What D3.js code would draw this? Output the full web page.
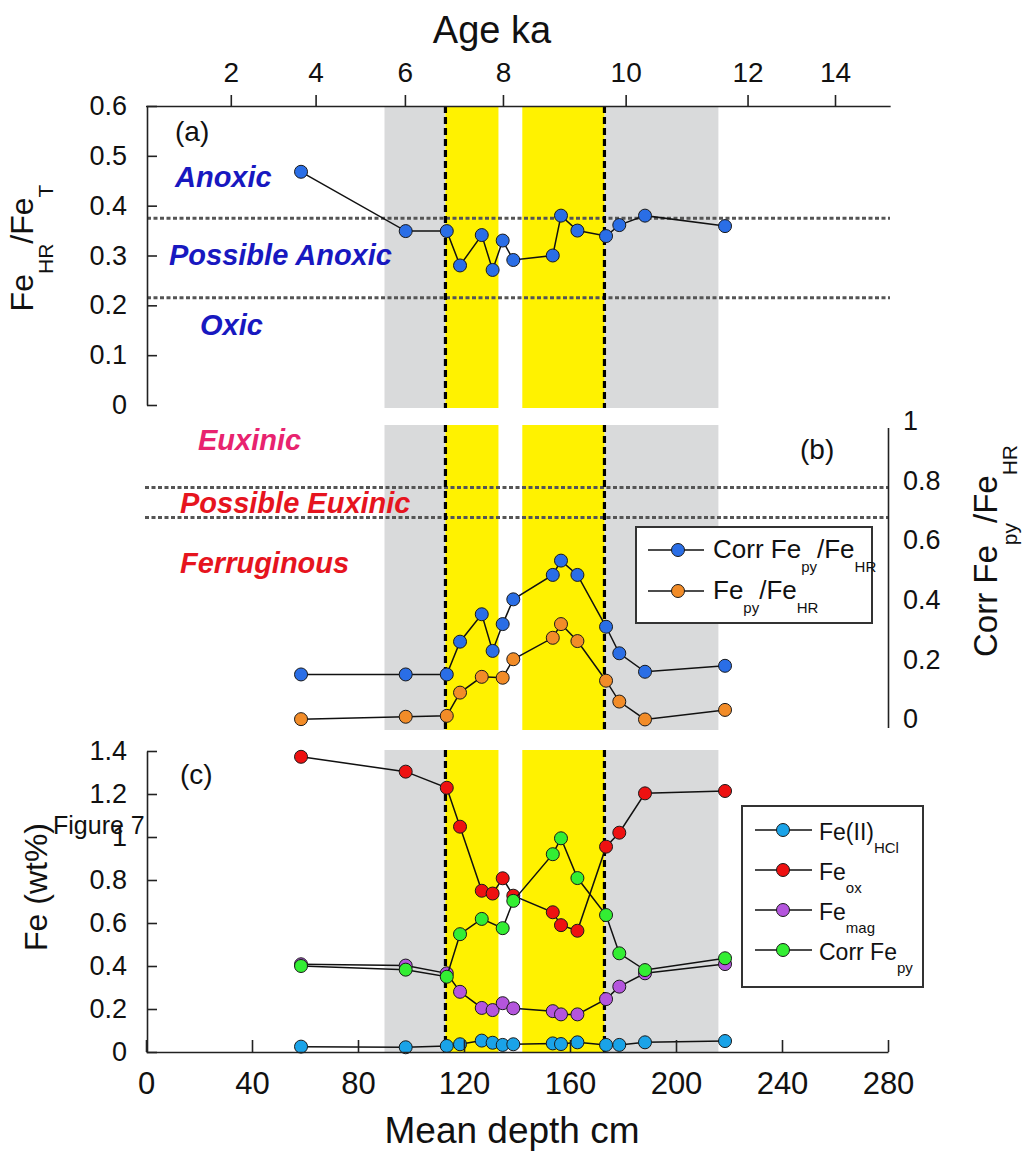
<!DOCTYPE html>
<html>
<head>
<meta charset="utf-8">
<script src="https://cdn.jsdelivr.net/npm/d3@7"></script>
<style>
  body { margin: 0; background: #fff; }
  svg { display: block; font-family: "Liberation Sans", Arial, Helvetica, sans-serif; }
</style>
</head>
<body>
<svg id="chart" width="1026" height="1156"></svg>
<script>
// mean depth (cm) of each sample
const depth = [58.5, 98, 113.5, 118.5, 126.7, 130.8, 134.6, 138.6, 153.5, 156.6, 162.8, 173.6, 178.6, 188.3, 218.5];

// (a) FeHR/FeT
const feHrFeT = [0.468, 0.349, 0.349, 0.28, 0.341, 0.271, 0.33, 0.291, 0.30, 0.38, 0.35, 0.339, 0.361, 0.38, 0.359];

// (b) pyrite ratios
const corrFepyFeHR = [0.173, 0.173, 0.173, 0.283, 0.375, 0.252, 0.342, 0.425, 0.507, 0.555, 0.507, 0.333, 0.244, 0.182, 0.202];
const fepyFeHR = [0.023, 0.031, 0.034, 0.112, 0.165, null, 0.162, 0.224, 0.296, 0.342, 0.285, 0.152, 0.082, 0.022, 0.054];

// (c) Fe wt%
const feIIHCl = [0.025, 0.022, 0.028, 0.036, 0.053, 0.043, 0.033, 0.036, 0.04, 0.037, 0.045, 0.033, 0.033, 0.045, 0.051];
const feOx = [1.373, 1.304, 1.229, 1.048, 0.75, 0.737, 0.808, 0.727, 0.65, 0.59, 0.564, 0.955, 1.02, 1.203, 1.214];
const feMag = [0.408, 0.402, 0.366, 0.28, 0.205, 0.195, 0.227, 0.203, 0.19, 0.175, 0.175, 0.246, 0.304, 0.366, 0.409];
const corrFepy = [0.40, 0.383, 0.35, 0.548, 0.619, null, 0.576, 0.703, 0.92, 0.994, 0.809, 0.637, 0.459, 0.381, 0.436];

// shaded intervals (depth cm)
const grayBands = [[90, 113], [173, 216]];
const yellowBands = [[113, 133], [142, 173]];
const boundaries = [113, 173];

// age model ticks on the top axis
const ageLabels = [2, 4, 6, 8, 10, 12, 14];
const ageDepths = [32, 64, 97.7, 134.7, 181, 227, 260];

// thresholds
const anoxicLimits = [0.375, 0.215];
const euxinicLimits = [0.8, 0.7];

const depthTicks = [0, 40, 80, 120, 160, 200, 240, 280];
const ticksA = [0, 0.1, 0.2, 0.3, 0.4, 0.5, 0.6];
const ticksB = [0, 0.2, 0.4, 0.6, 0.8, 1];
const ticksC = [0, 0.2, 0.4, 0.6, 0.8, 1, 1.2, 1.4];

const svg = d3.select("#chart");
svg.append("rect").attr("width", 1026).attr("height", 1156).attr("fill", "#fff");

const x = d3.scaleLinear([0, 280], [146, 888]);
const ya = d3.scaleLinear([0, 0.6], [405, 106]);
const yb = d3.scaleLinear([0, 1], [726, 428]);
const yc = d3.scaleLinear([0, 1.4], [1052, 751]);

const fmt = d => String(+d.toFixed(1));

function shading(top, bottom) {
  const g = svg.append("g");
  g.selectAll(".gray").data(grayBands).join("rect")
      .attr("x", d => x(d[0])).attr("width", d => x(d[1]) - x(d[0]))
      .attr("y", top).attr("height", bottom - top).attr("fill", "#d9dadb");
  g.selectAll(".yel").data(yellowBands).join("rect")
      .attr("x", d => x(d[0])).attr("width", d => x(d[1]) - x(d[0]))
      .attr("y", top).attr("height", bottom - top).attr("fill", "#fff200");
  return g;
}

function vlines(top, bottom) {
  svg.append("g").selectAll("line").data(boundaries).join("line")
      .attr("x1", d => x(d)).attr("x2", d => x(d))
      .attr("y1", top).attr("y2", bottom)
      .attr("stroke", "#000").attr("stroke-width", 3.2).attr("stroke-dasharray", "7,4");
}

function hlines(values, y, x0, x1) {
  svg.append("g").selectAll("line").data(values).join("line")
      .attr("x1", x0).attr("x2", x1)
      .attr("y1", d => y(d)).attr("y2", d => y(d))
      .attr("stroke", "#555").attr("stroke-width", 3).attr("stroke-dasharray", "4,2.5");
}

function series(values, y, color) {
  const pts = depth.map((d, i) => [d, values[i]]).filter(p => p[1] != null);
  const line = d3.line().x(p => x(p[0])).y(p => y(p[1]));
  svg.append("path").datum(pts).attr("d", line)
      .attr("fill", "none").attr("stroke", "#111").attr("stroke-width", 1.5);
  svg.append("g").selectAll("circle").data(pts).join("circle")
      .attr("cx", p => x(p[0])).attr("cy", p => y(p[1])).attr("r", 6.5)
      .attr("fill", color).attr("stroke", "#1a1a1a").attr("stroke-width", 1);
}

function styleAxis(g, size) {
  g.selectAll(".domain, .tick line").attr("stroke", "#222").attr("stroke-width", 1.6);
  g.selectAll("text").attr("font-size", size).attr("fill", "#111")
      .attr("font-family", "'Liberation Sans', Arial, sans-serif");
}

function label(txt, px, py, size, color, opts = {}) {
  return svg.append("text").attr("x", px).attr("y", py)
      .attr("font-size", size).attr("fill", color)
      .attr("font-weight", opts.bold ? "bold" : null)
      .attr("font-style", opts.italic ? "italic" : null)
      .text(txt);
}

// ---------- panel (a) ----------
shading(106, 408);
hlines(anoxicLimits, ya, 147, 890);
vlines(106, 408);
series(feHrFeT, ya, "#2a6ee6");

styleAxis(svg.append("g").attr("transform", "translate(147,0)")
    .call(d3.axisLeft(ya).tickValues(ticksA).tickFormat(fmt)
      .tickSizeInner(-10).tickSizeOuter(0).tickPadding(20)), 27);

const ageAxis = svg.append("g").attr("transform", "translate(0,106)")
    .call(d3.axisTop(x).tickValues(ageDepths).tickFormat((d, i) => ageLabels[i])
      .tickSizeInner(11).tickSizeOuter(0).tickPadding(13));
styleAxis(ageAxis, 28);
ageAxis.select(".domain").attr("d", `M${x(0)},0.5H${x(281)}`);

svg.append("text").attr("x", 492).attr("y", 43).attr("text-anchor", "middle")
    .attr("font-size", 38).attr("fill", "#111").text("Age ka");

label("(a)", 175, 141, 28, "#111");
const blueTxt = "#1818c0";
label("Anoxic", 175, 187, 29, blueTxt, {bold: true, italic: true});
label("Possible Anoxic", 169, 265, 29, blueTxt, {bold: true, italic: true});
label("Oxic", 200, 335, 29, blueTxt, {bold: true, italic: true});

const tA = svg.append("text").attr("transform", "translate(33,248) rotate(-90)")
    .attr("text-anchor", "middle").attr("font-size", 32).attr("fill", "#111");
tA.append("tspan").text("Fe");
tA.append("tspan").attr("font-size", 21).attr("dy", 20).text("HR");
tA.append("tspan").attr("dy", -20).text("/Fe");
tA.append("tspan").attr("font-size", 21).attr("dy", 20).text("T");

// ---------- panel (b) ----------
shading(425, 730);
hlines(euxinicLimits, yb, 145, 888);
vlines(425, 730);
series(corrFepyFeHR, yb, "#2a6ee6");
series(fepyFeHR, yb, "#f28c28");

const axB = svg.append("g").attr("transform", "translate(888,0)")
    .call(d3.axisRight(yb).tickValues(ticksB).tickFormat(fmt)
      .tickSize(0).tickPadding(15));
styleAxis(axB, 27);
axB.selectAll("text").attr("y", -7);
axB.select(".domain").attr("d", `M0.5,${yb(1)}V${yb(-0.007)}`);

label("(b)", 800, 459, 28, "#111");
label("Euxinic", 198, 450, 29, "#e8236f", {bold: true, italic: true});
label("Possible Euxinic", 180, 513, 29, "#e6141e", {bold: true, italic: true});
label("Ferruginous", 180, 573, 29, "#e6141e", {bold: true, italic: true});

const tB = svg.append("text").attr("transform", "translate(997,551) rotate(-90)")
    .attr("text-anchor", "middle").attr("font-size", 33).attr("fill", "#111");
tB.append("tspan").text("Corr Fe");
tB.append("tspan").attr("font-size", 21).attr("dy", 20).text("py");
tB.append("tspan").attr("dy", -20).text("/Fe");
tB.append("tspan").attr("font-size", 21).attr("dy", 20).text("HR");

// legend (b)
const legB = [
  {name: ["Corr Fe", "py", "/Fe", "HR"], color: "#2a6ee6"},
  {name: ["Fe", "py", "/Fe", "HR"], color: "#f28c28"}
];
svg.append("rect").attr("x", 636).attr("y", 527).attr("width", 236).attr("height", 96)
    .attr("fill", "#fff").attr("stroke", "#333").attr("stroke-width", 2);
legB.forEach((d, i) => {
  const cy = 550 + i * 41;
  svg.append("line").attr("x1", 648).attr("x2", 704).attr("y1", cy).attr("y2", cy)
      .attr("stroke", "#111").attr("stroke-width", 1.5);
  svg.append("circle").attr("cx", 678).attr("cy", cy).attr("r", 6.5)
      .attr("fill", d.color).attr("stroke", "#1a1a1a");
  const t = svg.append("text").attr("x", 713).attr("y", cy + 8).attr("font-size", 26).attr("fill", "#111");
  t.append("tspan").text(d.name[0]);
  t.append("tspan").attr("font-size", 15).attr("dy", 14).text(d.name[1]);
  t.append("tspan").attr("dy", -14).text(d.name[2]);
  t.append("tspan").attr("font-size", 15).attr("dy", 14).text(d.name[3]);
});

// ---------- panel (c) ----------
shading(750, 1053);
vlines(750, 1053);
series(feIIHCl, yc, "#1aa3e8");
series(feOx, yc, "#ee1111");
series(feMag, yc, "#b455dd");
series(corrFepy, yc, "#33ee33");

styleAxis(svg.append("g").attr("transform", "translate(147,0)")
    .call(d3.axisLeft(yc).tickValues(ticksC).tickFormat(fmt)
      .tickSizeInner(-10).tickSizeOuter(0).tickPadding(20)), 27);

styleAxis(svg.append("g").attr("transform", "translate(0,1052)")
    .call(d3.axisBottom(x).tickValues(depthTicks)
      .tickSizeInner(-12).tickSizeOuter(0).tickPadding(20)), 31);

svg.append("text").attr("x", 512).attr("y", 1143).attr("text-anchor", "middle")
    .attr("font-size", 37).attr("fill", "#111").text("Mean depth cm");

label("(c)", 180, 784, 28, "#111");
// overlaps the "1" tick label, as in the original figure
label("Figure 7", 53, 834, 25, "#111");

svg.append("text").attr("transform", "translate(47,887) rotate(-90)")
    .attr("text-anchor", "middle").attr("font-size", 32).attr("fill", "#111")
    .text("Fe (wt%)");

// legend (c)
const legC = [
  {name: ["Fe(II)", "HCl"], color: "#1aa3e8"},
  {name: ["Fe", "ox"], color: "#ee1111"},
  {name: ["Fe", "mag"], color: "#b455dd"},
  {name: ["Corr Fe", "py"], color: "#33ee33"}
];
svg.append("rect").attr("x", 742).attr("y", 806).attr("width", 181).attr("height", 181)
    .attr("fill", "#fff").attr("stroke", "#333").attr("stroke-width", 2);
legC.forEach((d, i) => {
  const cy = 830 + i * 40;
  svg.append("line").attr("x1", 755).attr("x2", 812).attr("y1", cy).attr("y2", cy)
      .attr("stroke", "#111").attr("stroke-width", 1.5);
  svg.append("circle").attr("cx", 783).attr("cy", cy).attr("r", 6.5)
      .attr("fill", d.color).attr("stroke", "#1a1a1a");
  const t = svg.append("text").attr("x", 819).attr("y", cy + 10).attr("font-size", 23).attr("fill", "#111");
  t.append("tspan").text(d.name[0]);
  t.append("tspan").attr("font-size", 15).attr("dy", 13).text(d.name[1]);
});
</script>
</body>
</html>
